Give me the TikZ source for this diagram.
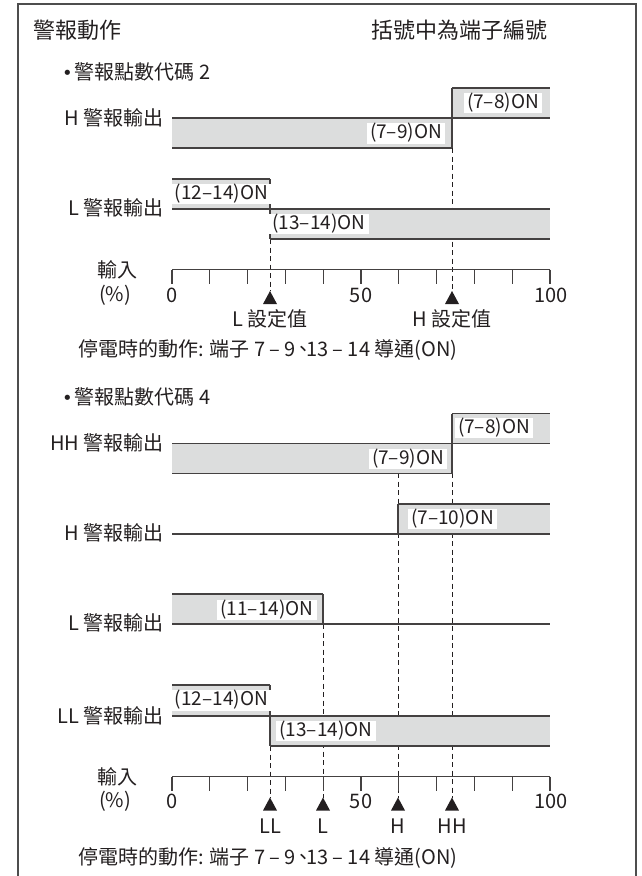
\documentclass[tikz,border=0pt]{standalone}
\usepackage{fontspec}
\setmainfont{Noto Sans CJK TC}
\newfontfamily\symfont{DejaVu Sans}
\definecolor{ink}{HTML}{231F20}
\definecolor{bar}{HTML}{DCDDDD}
\definecolor{frm}{HTML}{4D4D4D}
\newcommand{\jcomma}{\kern-0.12em、\kern-0.38em}
\begin{document}
\begin{tikzpicture}[x=1pt,y=-1pt,
  txt/.style={inner sep=0pt, text=ink, font=\fontsize{20}{24}\selectfont},
  ttl/.style={inner sep=0pt, text=ink, font=\fontsize{22}{26}\selectfont},
  onlbl/.style={fill=white, text=ink, inner xsep=3pt, inner ysep=1pt, text height=14.5pt, text depth=4pt, font=\fontsize{19}{22}\selectfont},
  wave/.style={draw=ink!85, line width=1.1pt},
  barfill/.style={fill=bar},
  guide/.style={draw=ink, line width=0.9pt, dash pattern=on 5pt off 3.5pt},
  axisline/.style={draw=ink!85, line width=1.1pt},
  tri/.style={fill=ink},
  frame/.style={draw=frm, line width=1.2pt}]
\useasboundingbox (0,0) rectangle (641,876);
% frame
\draw[frame] (18,876) -- (18,4) -- (636,4) -- (636,876);
% titles
\node[ttl, anchor=west] (title) at (33,30.5) {警報動作};
\node[ttl, anchor=east] (note) at (548,30.5) {括號中為端子編號};
\node[txt, anchor=west] (hdr2) at (62,72) {{\symfont\fontsize{18}{22}\selectfont •}\kern2pt 警報點數代碼 2};
\node[txt, anchor=west] (hdr4) at (62,397) {{\symfont\fontsize{18}{22}\selectfont •}\kern2pt 警報點數代碼 4};

% ---------- code 2 ----------
\draw[guide] (270,239) -- (270,291);
\draw[guide] (452,148) -- (452,291);
% H output
\fill[barfill] (452,88) rectangle (550,118);
\fill[barfill] (172,118) rectangle (452,148);
\draw[wave] (172,118) -- (550,118);
\draw[wave] (452,88) -- (550,88);
\draw[wave] (452,88) -- (452,148);
\draw[wave] (172,148) -- (452,148);
% L output
\fill[barfill] (172,179) rectangle (270,209);
\fill[barfill] (270,209) rectangle (550,239);
\draw[wave] (172,179) -- (270,179);
\draw[wave] (270,179) -- (270,239);
\draw[wave] (172,209) -- (550,209);
\draw[wave] (270,239) -- (550,239);
\node[onlbl] (a78) at (503,103) {(7–8)ON};
\node[onlbl] (a79) at (406,133.5) {(7–9)ON};
\node[onlbl] (a1214) at (221.5,194) {(12–14)ON};
\node[onlbl] (a1314) at (319,224) {(13–14)ON};
\node[txt, anchor=east] (hout2) at (164,118) {H 警報輸出};
\node[txt, anchor=east] (lout2) at (164,208) {L 警報輸出};
% axis
\draw[axisline] (172,269.5) -- (550,269.5);
\foreach \i in {0,...,10} \draw[axisline] (172+37.8*\i,269.5) -- ++(0,14.5);
\node[txt] (in2) at (117,269.5) {輸入};
\node[txt] (pc2) at (115,295) {(\%)};
\node[txt] (n0a) at (172,295) {0};
\node[txt] (n50a) at (361,295) {50};
\node[txt] (n100a) at (551,295) {100};
\fill[tri] (270,291) -- ++(7,13) -- ++(-14,0) -- cycle;
\fill[tri] (452,291) -- ++(7,13) -- ++(-14,0) -- cycle;
\node[txt] (lset) at (270,319) {L 設定值};
\node[txt] (hset) at (452,319) {H 設定值};
\node[txt, anchor=west] (pf2) at (78,350) {停電時的動作: 端子 7 – 9\jcomma 13 – 14 導通(ON)};

% ---------- code 4 ----------
\draw[guide] (452,473) -- (452,797.5);
\draw[guide] (398,473) -- (398,797.5);
\draw[guide] (323,624) -- (323,797.5);
\draw[guide] (270,746) -- (270,797.5);
% HH output
\fill[barfill] (452,413.5) rectangle (550,443.5);
\fill[barfill] (172,443.5) rectangle (452,473.5);
\draw[wave] (172,443.5) -- (550,443.5);
\draw[wave] (452,413.5) -- (550,413.5);
\draw[wave] (452,413.5) -- (452,473.5);
\draw[wave] (172,473.5) -- (452,473.5);
% H output
\fill[barfill] (398,504) rectangle (550,534);
\draw[wave] (398,504) -- (550,504);
\draw[wave] (398,504) -- (398,534);
\draw[wave] (172,534) -- (550,534);
% L output
\fill[barfill] (172,594) rectangle (323,624);
\draw[wave] (172,594) -- (323,594);
\draw[wave] (323,594) -- (323,624);
\draw[wave] (172,624) -- (550,624);
% LL output
\fill[barfill] (172,685) rectangle (270,716);
\fill[barfill] (270,716) rectangle (550,746);
\draw[wave] (172,685) -- (270,685);
\draw[wave] (270,685) -- (270,746);
\draw[wave] (172,716) -- (550,716);
\draw[wave] (270,746) -- (550,746);
\node[onlbl] (b78) at (494,428) {(7–8)ON};
\node[onlbl] (b79) at (408,459) {(7–9)ON};
\node[onlbl] (b710) at (452.5,519) {(7–10)ON};
\node[onlbl] (b1114) at (267,610) {(11–14)ON};
\node[onlbl] (b1214) at (221.5,700.5) {(12–14)ON};
\node[onlbl] (b1314) at (326,731) {(13–14)ON};
\node[txt, anchor=east] (hhout4) at (164,443) {HH 警報輸出};
\node[txt, anchor=east] (hout4) at (164,533) {H 警報輸出};
\node[txt, anchor=east] (lout4) at (164,623) {L 警報輸出};
\node[txt, anchor=east] (llout4) at (164,716) {LL 警報輸出};
% axis
\draw[axisline] (172,776.5) -- (550,776.5);
\foreach \i in {0,...,10} \draw[axisline] (172+37.8*\i,776.5) -- ++(0,14);
\node[txt] (in4) at (117,777) {輸入};
\node[txt] (pc4) at (115,801.5) {(\%)};
\node[txt] (n0b) at (172,801.5) {0};
\node[txt] (n50b) at (361,801.5) {50};
\node[txt] (n100b) at (551,801.5) {100};
\foreach \xx in {270,323,398,452} \fill[tri] (\xx,797.5) -- ++(7,13) -- ++(-14,0) -- cycle;
\node[txt] (tll) at (270,826) {LL};
\node[txt] (tl) at (323,826) {L};
\node[txt] (th) at (398,826) {H};
\node[txt] (thh) at (452,826) {HH};
\node[txt, anchor=west] (pf4) at (78,858) {停電時的動作: 端子 7 – 9\jcomma 13 – 14 導通(ON)};
\end{tikzpicture}
\end{document}
